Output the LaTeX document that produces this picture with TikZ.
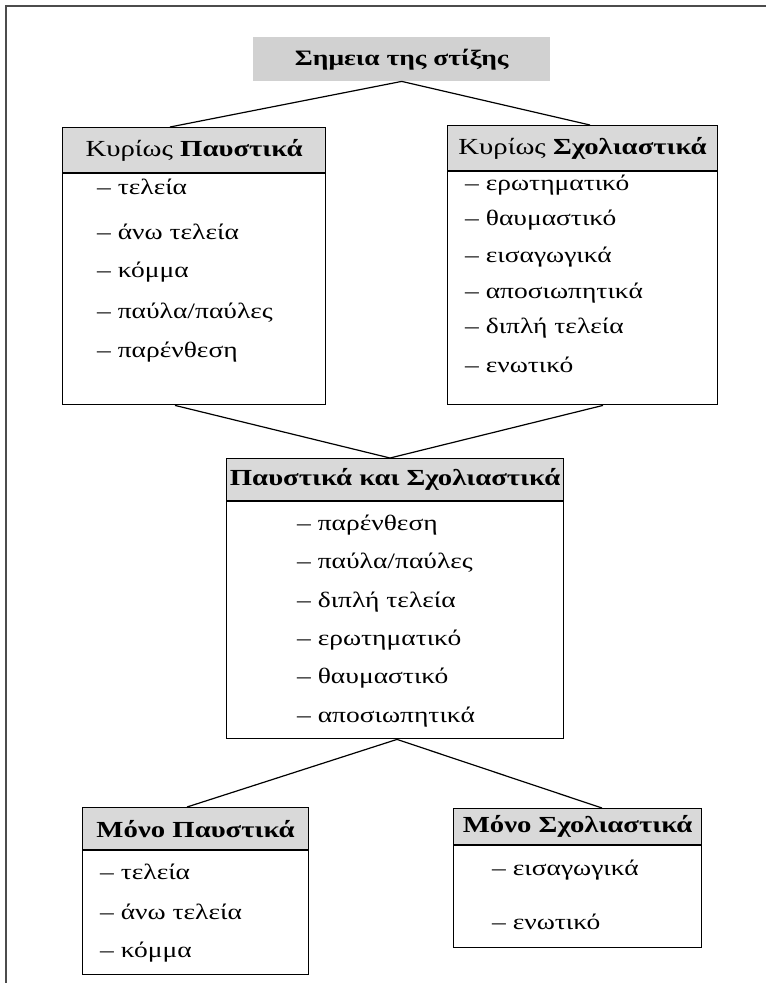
\documentclass[tikz,border=0pt]{standalone}
\usepackage{fontspec}
\setmainfont{Liberation Serif}[FakeStretch=1.25]
\usetikzlibrary{calc}
\definecolor{hdrgray}{gray}{0.85}
\definecolor{titlegray}{gray}{0.82}
\definecolor{framegray}{gray}{0.3}
\begin{document}
\begin{tikzpicture}[x=1pt,y=-1pt,
  hdr/.style={draw=black, fill=hdrgray, line width=1.2pt, anchor=north west, inner sep=0pt, font=\fontsize{23}{26}\selectfont},
  bodybox/.style={draw=black, line width=1.2pt, anchor=north west, inner sep=0pt},
  item/.style={anchor=west, inner sep=0pt, font=\fontsize{22}{26}\selectfont},
  link/.style={line width=1.2pt}]
\useasboundingbox (0,0) rectangle (766,983);
\draw[framegray, line width=2pt] (6,983) -- (6,6) -- (766,6);

% title
\node[fill=titlegray, minimum width=297pt, minimum height=44pt, anchor=north west, inner sep=0pt,
      font=\bfseries\fontsize{22}{26}\selectfont] (title) at (253,37) {Σημεια της στίξης};

% box 1
\node[hdr, minimum width=263pt, minimum height=45pt] (h1) at (62,127) {Κυρίως \textbf{Παυστικά}};
\node[bodybox, minimum width=263pt, minimum height=231pt] (b1) at (h1.south west) {};
\node[item] (i11) at (97,187) {– τελεία};
\node[item] (i12) at (97,232) {– άνω τελεία};
\node[item] (i13) at (97,272) {– κόμμα};
\node[item] (i14) at (97,313) {– παύλα/παύλες};
\node[item] (i15) at (97,352) {– παρένθεση};

% box 2
\node[hdr, minimum width=270pt, minimum height=45pt] (h2) at (447,125) {Κυρίως \textbf{Σχολιαστικά}};
\node[bodybox, minimum width=270pt, minimum height=233pt] (b2) at (h2.south west) {};
\node[item] (i21) at (465,185) {– ερωτηματικό};
\node[item] (i22) at (465,220) {– θαυμαστικό};
\node[item] (i23) at (465,257) {– εισαγωγικά};
\node[item] (i24) at (465,293) {– αποσιωπητικά};
\node[item] (i25) at (465,328) {– διπλή τελεία};
\node[item] (i26) at (465,365) {– ενωτικό};

% box 3
\node[hdr, minimum width=337pt, minimum height=42pt] (h3) at (226,458) {\textbf{Παυστικά και Σχολιαστικά}};
\node[bodybox, minimum width=337pt, minimum height=237pt] (b3) at (h3.south west) {};
\node[item] (i31) at (297,525) {– παρένθεση};
\node[item] (i32) at (297,563) {– παύλα/παύλες};
\node[item] (i33) at (297,602) {– διπλή τελεία};
\node[item] (i34) at (297,640) {– ερωτηματικό};
\node[item] (i35) at (297,678) {– θαυμαστικό};
\node[item] (i36) at (297,717) {– αποσιωπητικά};

% box 4
\node[hdr, minimum width=226pt, minimum height=42pt] (h4) at (82,807) {\textbf{Μόνο Παυστικά}};
\node[bodybox, minimum width=226pt, minimum height=124pt] (b4) at (h4.south west) {};
\node[item] (i41) at (100,872) {– τελεία};
\node[item] (i42) at (100,912) {– άνω τελεία};
\node[item] (i43) at (100,952) {– κόμμα};

% box 5
\node[hdr, minimum width=248pt, minimum height=36pt] (h5) at (453,808) {\textbf{Μόνο Σχολιαστικά}};
\node[bodybox, minimum width=248pt, minimum height=102pt] (b5) at (h5.south west) {};
\node[item] (i51) at (492,870) {– εισαγωγικά};
\node[item] (i52) at (492,922) {– ενωτικό};

% connectors
\draw[link] ($(h1.north west)+(108,0)$) -- (title.south) -- ($(h2.north west)+(143,0)$);
\draw[link] ($(b1.south west)+(113,0)$) -- ($(h3.north west)+(164,0)$) -- ($(b2.south west)+(156,0)$);
\draw[link] ($(h4.north west)+(105,0)$) -- ($(b3.south west)+(171,0)$) -- ($(h5.north west)+(149,0)$);
\end{tikzpicture}
\end{document}
